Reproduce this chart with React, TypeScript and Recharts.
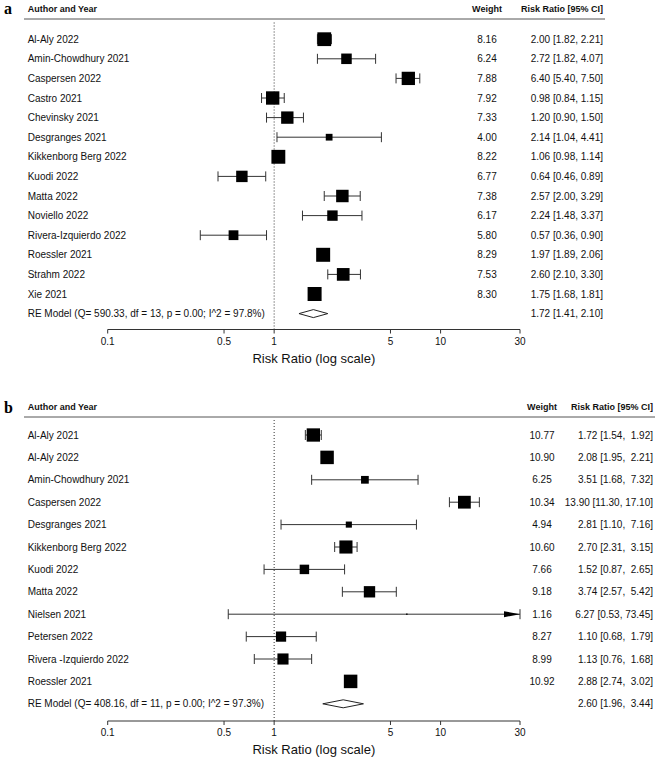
import React from 'react';
import { ScatterChart, Scatter, XAxis, YAxis, ErrorBar, ReferenceLine } from 'recharts';

const FONT = '"Liberation Sans", Arial, Helvetica, sans-serif';
const INK = '#111';

// shared log axis
const X_MIN = 0.1;
const X_MAX = 30;
const X_TICKS = [0.1, 0.5, 1, 5, 10, 30];

// ---- panel a ----
const STUDIES_A = [
  'Al-Aly 2022', 'Amin-Chowdhury 2021', 'Caspersen 2022', 'Castro 2021', 'Chevinsky 2021',
  'Desgranges 2021', 'Kikkenborg Berg 2022', 'Kuodi 2022', 'Matta 2022', 'Noviello 2022',
  'Rivera-Izquierdo 2022', 'Roessler 2021', 'Strahm 2022', 'Xie 2021',
];
const WEIGHTS_A = [8.16, 6.24, 7.88, 7.92, 7.33, 4.0, 8.22, 6.77, 7.38, 6.17, 5.8, 8.29, 7.53, 8.3];
const RR_A = [2.0, 2.72, 6.4, 0.98, 1.2, 2.14, 1.06, 0.64, 2.57, 2.24, 0.57, 1.97, 2.6, 1.75];
const LOWER_A = [1.82, 1.82, 5.4, 0.84, 0.9, 1.04, 0.98, 0.46, 2.0, 1.48, 0.36, 1.89, 2.1, 1.68];
const UPPER_A = [2.21, 4.07, 7.5, 1.15, 1.5, 4.41, 1.14, 0.89, 3.29, 3.37, 0.9, 2.06, 3.3, 1.81];
const RE_A = [1.72, 1.41, 2.1];
const RE_LABEL_A = 'RE Model (Q= 590.33, df = 13, p = 0.00; I^2 = 97.8%)';

// ---- panel b ----
const STUDIES_B = [
  'Al-Aly 2021', 'Al-Aly 2022', 'Amin-Chowdhury 2021', 'Caspersen 2022', 'Desgranges 2021',
  'Kikkenborg Berg 2022', 'Kuodi 2022', 'Matta 2022', 'Nielsen 2021', 'Petersen 2022',
  'Rivera -Izquierdo 2022', 'Roessler 2021',
];
const WEIGHTS_B = [10.77, 10.9, 6.25, 10.34, 4.94, 10.6, 7.66, 9.18, 1.16, 8.27, 8.99, 10.92];
const RR_B = [1.72, 2.08, 3.51, 13.9, 2.81, 2.7, 1.52, 3.74, 6.27, 1.1, 1.13, 2.88];
const LOWER_B = [1.54, 1.95, 1.68, 11.3, 1.1, 2.31, 0.87, 2.57, 0.53, 0.68, 0.76, 2.74];
const UPPER_B = [1.92, 2.21, 7.32, 17.1, 7.16, 3.15, 2.65, 5.42, 73.45, 1.79, 1.68, 3.02];
const RE_B = [2.6, 1.96, 3.44];
const RE_LABEL_B = 'RE Model (Q= 408.16, df = 11, p = 0.00; I^2 = 97.3%)';

const PANEL_A = {
  letter: 'a', top: 0, height: 375, headerY: 8.5, lineY: 19, lineRight: 605,
  plotTop: 21, firstRowY: 39.2, rowPx: 19.6, axisY: 329.5, titleOffset: 12.5,
  weightX: 487, ciRight: 603, sqMax: 14, numWidth: 4,
};
const PANEL_B = {
  letter: 'b', top: 375, height: 385, headerY: 32, lineY: 42, lineRight: 655,
  plotTop: 44, firstRowY: 60, rowPx: 22.4, axisY: 346, titleOffset: 6,
  weightX: 542, ciRight: 653, sqMax: 13.5, numWidth: 5,
};

const LABEL_X = 27.7;
const AXIS_LEFT = 107.7;
const AXIS_RIGHT = 520;

function ciText(est: number, lo: number, hi: number, width: number) {
  return `${est.toFixed(2)} [${lo.toFixed(2)}, ${hi.toFixed(2).padStart(width, ' ')}]`;
}

function buildRows(names: string[], w: number[], est: number[], lo: number[], hi: number[], width: number) {
  return names.map((name, i) => ({
    x: est[i],
    y: i,
    name,
    weight: w[i].toFixed(2),
    w: w[i],
    ci: ciText(est[i], lo[i], hi[i], width),
    err: [est[i] - lo[i], Math.min(hi[i], X_MAX) - est[i]],
    hi: hi[i],
  }));
}

function ForestPanel({ cfg, rows, re, reLabel }: any) {
  const n = rows.length;
  const wMax = Math.max(...rows.map((r: any) => r.w));
  const domain = [-(cfg.firstRowY - cfg.plotTop) / cfg.rowPx, (cfg.axisY - cfg.firstRowY) / cfg.rowPx];
  const dh = 4 / cfg.rowPx;
  const diamond = [
    { x: re[1], y: n }, { x: re[0], y: n - dh }, { x: re[2], y: n }, { x: re[0], y: n + dh }, { x: re[1], y: n },
  ];
  const textRows = [
    ...rows,
    { x: re[0], y: n, name: reLabel, weight: '', ci: ciText(re[0], re[1], re[2], cfg.numWidth) },
  ];
  const arrows = rows.filter((r: any) => r.hi > X_MAX).map((r: any) => ({ x: X_MAX, y: r.y }));

  return (
    <div style={{ position: 'absolute', left: 0, top: cfg.top, width: 669, height: cfg.height }}>
      <ScatterChart
        width={669}
        height={cfg.height}
        margin={{ top: cfg.plotTop, right: 669 - AXIS_RIGHT, bottom: 0, left: AXIS_LEFT }}
      >
        <XAxis
          type="number"
          dataKey="x"
          scale="log"
          domain={[X_MIN, X_MAX]}
          ticks={X_TICKS}
          height={cfg.height - cfg.axisY}
          tickSize={4}
          tickMargin={4}
          tickFormatter={(v: number) => String(v)}
          tick={{ fontSize: 10, fill: INK, fontFamily: FONT }}
          axisLine={{ stroke: '#333' }}
          tickLine={{ stroke: '#333' }}
          label={{
            value: 'Risk Ratio (log scale)',
            position: 'insideBottom',
            offset: cfg.titleOffset,
            style: { fontSize: 13, fill: INK, fontFamily: FONT },
          }}
        />
        <YAxis type="number" dataKey="y" domain={domain} reversed hide />
        <ReferenceLine x={1} stroke="#333" strokeDasharray="1 2" />
        <Scatter
          data={rows}
          isAnimationActive={false}
          shape={(p: any) => {
            const s = (cfg.sqMax * p.payload.w) / wMax;
            return <rect x={p.cx - s / 2} y={p.cy - s / 2} width={s} height={s} fill="#000" />;
          }}
        >
          <ErrorBar dataKey="err" direction="x" width={5} stroke="#333" strokeWidth={1} />
        </Scatter>
        <Scatter
          data={arrows}
          isAnimationActive={false}
          shape={(p: any) => (
            <polygon points={`${p.cx},${p.cy} ${p.cx - 16},${p.cy - 3} ${p.cx - 16},${p.cy + 3}`} fill="#000" />
          )}
        />
        <Scatter
          data={diamond}
          isAnimationActive={false}
          line={{ stroke: '#222', strokeWidth: 1 }}
          lineType="joint"
          shape={() => <g />}
        />
        <Scatter
          data={textRows}
          isAnimationActive={false}
          shape={(p: any) => (
            <g fontFamily={FONT} fontSize={10} fill={INK}>
              <text x={LABEL_X} y={p.cy} dy="0.35em">{p.payload.name}</text>
              <text x={cfg.weightX} y={p.cy} dy="0.35em" textAnchor="middle">{p.payload.weight}</text>
              <text x={cfg.ciRight} y={p.cy} dy="0.35em" textAnchor="end" style={{ whiteSpace: 'pre' }}>
                {p.payload.ci}
              </text>
            </g>
          )}
        />
      </ScatterChart>
      <svg width={669} height={cfg.height} style={{ position: 'absolute', left: 0, top: 0, pointerEvents: 'none' }}>
        <text x={4} y={cfg.headerY} dy="0.35em" fontFamily='"Liberation Serif", "Times New Roman", serif' fontWeight="bold" fontSize={16} fill="#000">
          {cfg.letter}
        </text>
        <g fontFamily={FONT} fontSize={9} fontWeight="bold" fill={INK}>
          <text x={LABEL_X} y={cfg.headerY} dy="0.35em">Author and Year</text>
          <text x={cfg.weightX} y={cfg.headerY} dy="0.35em" textAnchor="middle">Weight</text>
          <text x={cfg.ciRight} y={cfg.headerY} dy="0.35em" textAnchor="end">Risk Ratio [95% CI]</text>
        </g>
        <line x1={24} x2={cfg.lineRight} y1={cfg.lineY} y2={cfg.lineY} stroke="#555" strokeWidth={1} />
      </svg>
    </div>
  );
}

export default function App() {
  const rowsA = buildRows(STUDIES_A, WEIGHTS_A, RR_A, LOWER_A, UPPER_A, PANEL_A.numWidth);
  const rowsB = buildRows(STUDIES_B, WEIGHTS_B, RR_B, LOWER_B, UPPER_B, PANEL_B.numWidth);
  return (
    <div style={{ position: 'absolute', left: 0, top: 0, width: 669, height: 760, background: '#fff' }}>
      <ForestPanel cfg={PANEL_A} rows={rowsA} re={RE_A} reLabel={RE_LABEL_A} />
      <ForestPanel cfg={PANEL_B} rows={rowsB} re={RE_B} reLabel={RE_LABEL_B} />
    </div>
  );
}
